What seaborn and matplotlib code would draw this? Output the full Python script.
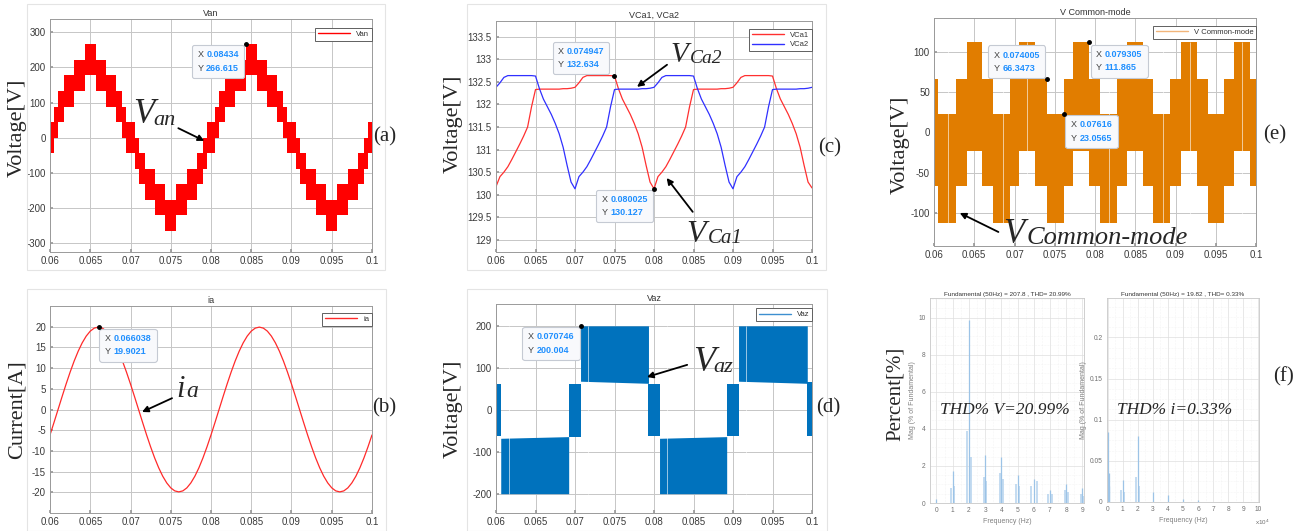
import numpy as np
import matplotlib
matplotlib.use("Agg")
import matplotlib.pyplot as plt
import seaborn as sns
from matplotlib.lines import Line2D
from matplotlib.patches import Rectangle
from matplotlib.offsetbox import TextArea, HPacker, AnnotationBbox
from matplotlib.ticker import AutoMinorLocator

W, H = 1299, 531

# ---------------- data ----------------
time_ticks = [0.06, 0.065, 0.07, 0.075, 0.08, 0.085, 0.09, 0.095, 0.1]
time_labels = ["0.06", "0.065", "0.07", "0.075", "0.08", "0.085", "0.09", "0.095", "0.1"]

# (a) Van staircase: step edges (s) and level index of each step
van_edges = [0.0600, 0.0605, 0.06103, 0.06174, 0.06302, 0.06434, 0.06566, 0.06698, 0.06826, 0.06897,
             0.0695, 0.0705, 0.07103, 0.07174, 0.07302, 0.07434, 0.07566, 0.07698, 0.07826, 0.07897,
             0.0795, 0.0805, 0.08103, 0.08174, 0.08302, 0.08434, 0.08566, 0.08698, 0.08826, 0.08897,
             0.0895, 0.0905, 0.09103, 0.09174, 0.09302, 0.09434, 0.09566, 0.09698, 0.09826, 0.09897,
             0.0995, 0.1000]
van_step = [0, 1, 2, 3, 4, 5, 4, 3, 2, 1,
            0, -1, -2, -3, -4, -5, -4, -3, -2, -1,
            0, 1, 2, 3, 4, 5, 4, 3, 2, 1,
            0, -1, -2, -3, -4, -5, -4, -3, -2, -1,
            0, 0]
van_levels = [0, 44, 88, 133, 177, 221, 266]

# (b) phase current, one sample every 0.5 ms from 0.06 s
ia = [-6.15, -3.11, 0.0, 3.11, 6.15, 9.03, 11.70, 14.07, 16.10, 17.73,
      18.93, 19.66, 19.90, 19.66, 18.93, 17.73, 16.10, 14.07, 11.70, 9.03,
      6.15, 3.11, 0.0, -3.11, -6.15, -9.03, -11.70, -14.07, -16.10, -17.73,
      -18.93, -19.66, -19.90, -19.66, -18.93, -17.73, -16.10, -14.07, -11.70, -9.03,
      -6.15, -3.11, 0.0, 3.11, 6.15, 9.03, 11.70, 14.07, 16.10, 17.73,
      18.93, 19.66, 19.90, 19.66, 18.93, 17.73, 16.10, 14.07, 11.70, 9.03,
      6.15, 3.11, 0.0, -3.11, -6.15, -9.03, -11.70, -14.07, -16.10, -17.73,
      -18.93, -19.66, -19.90, -19.66, -18.93, -17.73, -16.10, -14.07, -11.70, -9.03,
      -6.15]

# (c) capacitor voltages, one sample every 0.5 ms from 0.06 s
vca1 = [130.18, 130.40, 130.50, 130.62, 130.78, 130.95, 131.12, 131.30, 131.50, 131.95,
        132.33, 132.34, 132.34, 132.34, 132.34, 132.34, 132.34, 132.35, 132.35, 132.36,
        132.38, 132.48, 132.60, 132.64, 132.64, 132.64, 132.64, 132.64, 132.64, 132.64,
        132.63, 132.35, 132.12, 131.95, 131.78, 131.58, 131.35, 131.05, 130.65, 130.28,
        130.13, 130.40, 130.50, 130.62, 130.78, 130.95, 131.12, 131.30, 131.50, 131.95,
        132.33, 132.34, 132.34, 132.34, 132.34, 132.34, 132.34, 132.35, 132.35, 132.36,
        132.38, 132.48, 132.60, 132.64, 132.64, 132.64, 132.64, 132.64, 132.64, 132.64,
        132.63, 132.35, 132.12, 131.95, 131.78, 131.58, 131.35, 131.05, 130.65, 130.28,
        130.15]
vca2 = [132.38, 132.48, 132.60, 132.64, 132.64, 132.64, 132.64, 132.64, 132.64, 132.64,
        132.63, 132.35, 132.12, 131.95, 131.78, 131.58, 131.35, 131.05, 130.65, 130.28,
        130.13, 130.40, 130.50, 130.62, 130.78, 130.95, 131.12, 131.30, 131.50, 131.95,
        132.33, 132.34, 132.34, 132.34, 132.34, 132.34, 132.34, 132.35, 132.35, 132.36,
        132.38, 132.48, 132.60, 132.64, 132.64, 132.64, 132.64, 132.64, 132.64, 132.64,
        132.63, 132.35, 132.12, 131.95, 131.78, 131.58, 131.35, 131.05, 130.65, 130.28,
        130.13, 130.40, 130.50, 130.62, 130.78, 130.95, 131.12, 131.30, 131.50, 131.95,
        132.33, 132.34, 132.34, 132.34, 132.34, 132.34, 132.34, 132.35, 132.35, 132.36,
        132.38]

# (d) Vaz PWM envelope, one entry per segment
vaz_start = [0.0600, 0.0606, 0.0692, 0.0707, 0.0793, 0.0807, 0.0892, 0.0907, 0.0994]
vaz_end = [0.0606, 0.0692, 0.0707, 0.0793, 0.0807, 0.0892, 0.0907, 0.0994, 0.1000]
vaz_hi_a = [62, -68, 62, 200, 62, -68, 62, 200, 66]
vaz_hi_b = [62, -64, 62, 200, 62, -64, 62, 200, 66]
vaz_lo_a = [-62, -200, -64, 68, -62, -200, -62, 68, -62]
vaz_lo_b = [-62, -200, -64, 63, -62, -200, -62, 63, -62]
vaz_gaps = [0.0616, 0.0717, 0.0816, 0.0917]

# (e) common-mode voltage PWM envelope
vcm_edges = [0.0600, 0.0605, 0.0627, 0.0641, 0.0660, 0.0673, 0.0694, 0.0705, 0.0725, 0.0740,
             0.0761, 0.0773, 0.0793, 0.0806, 0.0827, 0.0840, 0.0860, 0.0872, 0.0893, 0.0907,
             0.0927, 0.0940, 0.0960, 0.0973, 0.0993, 0.1000]
vcm_hi = [66.3, 23.1, 66.3, 111.9, 66.3, 23.1, 66.3, 111.9, 66.3, 23.1,
          66.3, 111.9, 66.3, 23.1, 66.3, 111.9, 66.3, 23.1, 66.3, 111.9,
          66.3, 23.1, 66.3, 111.9, 66.3, 66.3]
vcm_lo = [-66.3, -111.9, -66.3, -23.1, -66.3, -111.9, -66.3, -23.1, -66.3, -111.9,
          -66.3, -23.1, -66.3, -111.9, -66.3, -23.1, -66.3, -111.9, -66.3, -23.1,
          -66.3, -111.9, -66.3, -23.1, -66.3, -66.3]
vcm_gaps = [0.0617, 0.0686, 0.0715, 0.0817, 0.0884, 0.0918, 0.0982]

# (f) FFT spectra, frequency in x10^4 Hz, magnitude in % of fundamental
fftv_freq = [0.0, 1.0, 2.0, 3.0, 4.0, 5.0, 6.0, 7.0, 8.0, 9.0]
fftv_mag = [0.2, 1.7, 9.9, 2.6, 2.5, 1.5, 1.3, 0.7, 1.0, 0.8]
fftv_side_freq = [0.9, 1.1, 1.9, 2.1, 2.95, 3.05, 3.9, 4.1, 4.9, 5.1, 5.8, 6.2, 6.9, 7.1, 7.9, 8.1, 8.9, 9.1]
fftv_side_mag = [0.8, 0.9, 3.9, 2.5, 1.4, 1.2, 1.6, 1.3, 1.0, 0.9, 0.9, 1.2, 0.5, 0.5, 0.7, 0.6, 0.5, 0.4]
ffti_freq = [0.0, 0.05, 0.1, 1.0, 2.0, 3.0, 4.0, 5.0, 6.0]
ffti_mag = [0.085, 0.035, 0.02, 0.027, 0.08, 0.012, 0.008, 0.004, 0.003]
ffti_side_freq = [0.9, 1.1, 1.9, 2.1]
ffti_side_mag = [0.015, 0.012, 0.03, 0.02]

# ---------------- style ----------------
sns.set_theme(style="whitegrid")
plt.rcParams["font.family"] = ["Liberation Sans", "DejaVu Sans"]
SERIF = "Liberation Serif"

fig = plt.figure(figsize=(W / 100, H / 100), dpi=100)
t = np.linspace(0.06, 0.1, 81)


def px_axes(l, top, r, b):
    return fig.add_axes([l / W, 1 - b / H, (r - l) / W, (b - top) / H])


def style_time_axis(ax, ylim, yticks, title):
    ax.set_xlim(0.06, 0.1)
    ax.set_ylim(*ylim)
    ax.set_xticks(time_ticks)
    ax.set_xticklabels(time_labels)
    ax.set_yticks(yticks)
    ax.set_yticklabels([f"{v:g}" for v in yticks])
    ax.grid(True, color="#c6c6c6", lw=0.7)
    ax.set_axisbelow(True)
    for s in ax.spines.values():
        s.set_visible(True)
        s.set_color("#9a9a9a")
        s.set_linewidth(0.7)
    ax.tick_params(direction="in", length=2, labelsize=7, colors="#9a9a9a",
                   labelcolor="#3a3a3a", pad=3, bottom=True, left=True)
    ax.set_xlabel("")
    ax.set_ylabel("")
    ax.set_title(title, fontsize=6.5, color="#333333", pad=2.5)


def matlab_legend(ax, colors, labels, anchor_y):
    handles = [Line2D([0], [0], color=c, lw=1.0) for c in colors]
    leg = ax.legend(handles, labels, loc="upper right", bbox_to_anchor=(1.0, anchor_y),
                    fontsize=5.5, frameon=True, fancybox=False, framealpha=1,
                    edgecolor="#606060", handlelength=4.2, handletextpad=0.8,
                    borderpad=0.35, labelspacing=0.25, borderaxespad=0)
    leg.get_frame().set_linewidth(0.7)
    for txt in leg.get_texts():
        txt.set_color("#333333")


def datatip(ax, x, y, bx, by, xs, ys):
    ax.plot([x], [y], "o", ms=2.5, color="black", zorder=9, clip_on=False)
    left = TextArea("X\nY", textprops=dict(fontsize=6.5, color="#404040", linespacing=1.6))
    right = TextArea(f"{xs}\n{ys}", textprops=dict(fontsize=6.5, color="#1f8fff",
                                                   fontweight="bold", linespacing=1.6))
    box = HPacker(children=[left, right], align="center", pad=0, sep=2)
    ab = AnnotationBbox(box, (x, y), xybox=(bx, by), xycoords="data", boxcoords="data",
                        frameon=True, pad=0.35,
                        bboxprops=dict(boxstyle="round,pad=0.35,rounding_size=0.15",
                                       fc="#f8f9fc", ec="#c5cad3", lw=0.8))
    ab.set_zorder(8)
    ax.add_artist(ab)


def big_label(ax, x, y, main, sub, size_main, size_sub, dx, dy=-1):
    ax.text(x, y, main, fontsize=size_main, fontstyle="italic", family=SERIF,
            ha="left", va="baseline", zorder=10)
    ax.annotate(sub, xy=(x, y), xytext=(dx, dy), textcoords="offset points",
                fontsize=size_sub, fontstyle="italic", family=SERIF,
                ha="left", va="baseline", zorder=10)


def arrow(ax, tail, head):
    ax.annotate("", xy=head, xytext=tail,
                arrowprops=dict(arrowstyle="-|>", color="black", lw=1.3,
                                mutation_scale=9, shrinkA=0, shrinkB=0), zorder=10)


def lev(j):
    return np.sign(j) * van_levels[abs(j)]


# faint MATLAB figure frames
for (l, top, r, b) in [(27, 4, 385, 270), (467, 4, 826, 270), (27, 289, 386, 531), (467, 289, 827, 531)]:
    fig.patches.append(Rectangle((l / W, 1 - b / H), (r - l) / W, (b - top) / H,
                                 transform=fig.transFigure, fill=False, ec="#e4e4e4", lw=0.8))

# ---------------- (a) Van ----------------
ax = px_axes(50, 19, 372, 252)
van_lo = [lev(k - 1) for k in van_step]
van_hi = [lev(k + 1) for k in van_step]
ax.fill_between(van_edges, van_lo, van_hi, step="post", color="#ff0000", lw=0)
style_time_axis(ax, (-325.6, 337.8), [-300, -200, -100, 0, 100, 200, 300], "Van")
matlab_legend(ax, ["#ff0000"], ["Van"], 0.961)
datatip(ax, 0.08434, 266.615, 0.0809, 217, "0.08434", "266.615")
big_label(ax, 0.07031, 42, "V", "an", 25, 16, 14.5, -1.5)
arrow(ax, (0.07594, 26.9), (0.07917, -9.2))

# ---------------- (c) VCa1, VCa2 ----------------
ax = px_axes(496, 21, 812, 252)
sns.lineplot(x=t, y=vca1, ax=ax, color="#ff3030", lw=0.9)
sns.lineplot(x=t, y=vca2, ax=ax, color="#3030ff", lw=0.9)
style_time_axis(ax, (128.73, 133.85), [129, 129.5, 130, 130.5, 131, 131.5, 132, 132.5, 133, 133.5],
                "VCa1, VCa2")
matlab_legend(ax, ["#ff3030", "#3030ff"], ["VCa1", "VCa2"], 0.965)
datatip(ax, 0.074947, 132.634, 0.07076, 133.03, "0.074947", "132.634")
datatip(ax, 0.080025, 130.127, 0.07627, 129.75, "0.080025", "130.127")
big_label(ax, 0.08203, 132.95, "V", "Ca2", 21, 14, 14.5, -1)
big_label(ax, 0.08414, 128.96, "V", "Ca1", 23, 15, 15, -1)
arrow(ax, (0.08165, 132.88), (0.07785, 132.39))
arrow(ax, (0.0849, 129.62), (0.0816, 130.37))

# ---------------- (e) V Common-mode ----------------
ax = px_axes(934, 18, 1256, 246)
ax.fill_between(vcm_edges, vcm_lo, vcm_hi, step="post", color="#e17d00", lw=0)
ax.vlines(vcm_gaps, -111.9, 111.9, color="white", lw=0.6, alpha=0.7)
style_time_axis(ax, (-141, 142), [-100, -50, 0, 50, 100], "V Common-mode")
matlab_legend(ax, ["#f2b57a"], ["V Common-mode"], 0.965)
datatip(ax, 0.074005, 66.3473, 0.07025, 87.6, "0.074005", "66.3473")
datatip(ax, 0.079305, 111.865, 0.0830, 88.2, "0.079305", "111.865")
datatip(ax, 0.07616, 23.0565, 0.07957, 1.2, "0.07616", "23.0565")
big_label(ax, 0.06861, -136.9, "V", "Common-mode", 25, 19, 16.8, -1)
arrow(ax, (0.068, -123.6), (0.0632, -100))

# ---------------- (b) ia ----------------
ax = px_axes(50, 306, 372, 513)
sns.lineplot(x=t, y=ia, ax=ax, color="#ff2a2a", lw=0.9)
style_time_axis(ax, (-25, 25), [-20, -15, -10, -5, 0, 5, 10, 15, 20], "ia")
matlab_legend(ax, ["#ff2a2a"], ["ia"], 0.966)
datatip(ax, 0.066038, 19.9021, 0.06969, 15.56, "0.066038", "19.9021")
big_label(ax, 0.07574, 3.05, "i", "a", 22, 17, 7.2, 0)
arrow(ax, (0.07516, 2.73), (0.07143, -0.6))

# ---------------- (d) Vaz ----------------
ax = px_axes(496, 304, 812, 513)
for s, e, h0, h1, l0, l1 in zip(vaz_start, vaz_end, vaz_hi_a, vaz_hi_b, vaz_lo_a, vaz_lo_b):
    ax.fill_between([s, e], [l0, l1], [h0, h1], color="#0072bd", lw=0)
ax.vlines(vaz_gaps, -200, 200, color="white", lw=0.6, alpha=0.7)
style_time_axis(ax, (-246, 252), [-200, -100, 0, 100, 200], "Vaz")
matlab_legend(ax, ["#3d8fd0"], ["Vaz"], 0.98)
datatip(ax, 0.070746, 200.004, 0.06696, 158, "0.070746", "200.004")
big_label(ax, 0.08498, 93.3, "V", "az", 26, 16, 14.4, -1)
arrow(ax, (0.0842, 107), (0.0791, 78))


# ---------------- (f) FFT panels ----------------
def style_fft(ax, title):
    ax.grid(True, which="major", color="#dedede", lw=0.5)
    ax.xaxis.set_minor_locator(AutoMinorLocator(2))
    ax.yaxis.set_minor_locator(AutoMinorLocator(4))
    ax.grid(True, which="minor", color="#ececec", lw=0.4, ls=":")
    ax.set_axisbelow(True)
    for s in ax.spines.values():
        s.set_visible(True)
        s.set_color("#c8c8c8")
        s.set_linewidth(0.6)
    ax.tick_params(which="both", length=0, labelsize=4.8, labelcolor="#707070", pad=3)
    ax.set_title(title, fontsize=4.6, color="#333333", pad=1.5)
    ax.set_ylabel("Mag (% of Fundamental)", fontsize=5, color="#808080", labelpad=2)
    ax.set_xlabel("Frequency (Hz)", fontsize=5, color="#808080", labelpad=3)


ax = px_axes(930, 298, 1084, 503)
ax.vlines(fftv_side_freq, 0, fftv_side_mag, color="#b5d3ee", lw=1.4, alpha=0.8)
ax.vlines(fftv_freq, 0, fftv_mag, color="#9cc3e6", lw=0.9)
ax.set_xlim(-0.4, 9.1)
ax.set_ylim(0, 11.06)
ax.set_xticks(range(10))
ax.set_yticks([0, 2, 4, 6, 8, 10])
style_fft(ax, "Fundamental (50Hz) = 207.8 , THD= 20.99%")

ax = px_axes(1107, 298, 1259, 502)
ax.vlines(ffti_side_freq, 0, ffti_side_mag, color="#b5d3ee", lw=1.4, alpha=0.8)
ax.vlines(ffti_freq, 0, ffti_mag, color="#9cc3e6", lw=0.9)
ax.set_xlim(-0.05, 10.05)
ax.set_ylim(0, 0.248)
ax.set_xticks(range(11))
ax.set_yticks([0, 0.05, 0.1, 0.15, 0.2])
ax.set_yticklabels(["0", "0.05", "0.1", "0.15", "0.2"])
style_fft(ax, "Fundamental (50Hz) = 19.82 , THD= 0.33%")
fig.text(1262 / W, 1 - 522 / H, "x10$^4$", fontsize=4.5, color="#707070", ha="center", va="center")

fig.text(940 / W, 1 - 410 / H, "THD% V=20.99%", fontsize=12.5, fontstyle="italic",
         family=SERIF, ha="left", va="center")
fig.text(1117 / W, 1 - 410 / H, "THD% i=0.33%", fontsize=12.5, fontstyle="italic",
         family=SERIF, ha="left", va="center")

# ---------------- outer labels ----------------
for x, y, s in [(17, 128, "Voltage[V]"), (453, 124, "Voltage[V]"), (900, 145, "Voltage[V]"),
                (17, 410, "Current[A]"), (453, 409, "Voltage[V]"), (895, 394, "Percent[%]")]:
    fig.text(x / W, 1 - y / H, s, rotation=90, fontsize=16 if s != "Percent[%]" else 15,
             family=SERIF, ha="center", va="center")

for x, y, s in [(373, 137, "(a)"), (818, 148, "(c)"), (1263, 135, "(e)"),
                (372, 408, "(b)"), (816, 408, "(d)"), (1273, 377, "(f)")]:
    fig.text(x / W, 1 - y / H, s, fontsize=15, family=SERIF, ha="left", va="center")

fig.savefig("out.png", dpi=100)
